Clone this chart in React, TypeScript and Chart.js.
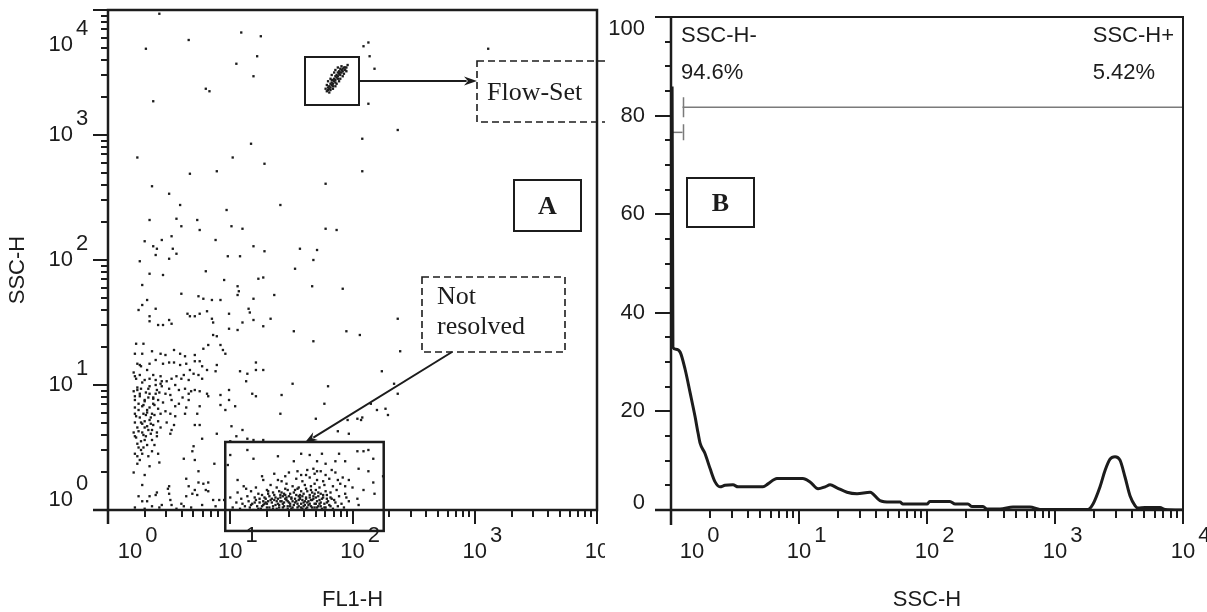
import React, { useEffect, useRef } from "react";
import { Chart, registerables } from "chart.js";

Chart.register(...registerables);

// ================= Panel A: FL1-H vs SSC-H dot plot =================
// Every event is stored as [log10(FL1-H), log10(SSC-H)] (decades).
const flowSetBeads: [number, number][] = [
  [1.80, 3.36], [1.81, 3.37], [1.82, 3.38], [1.81, 3.39], [1.83, 3.40], [1.82, 3.41], [1.84, 3.41], [1.83, 3.42],
  [1.85, 3.43], [1.84, 3.44], [1.86, 3.44], [1.85, 3.45], [1.87, 3.46], [1.86, 3.47], [1.88, 3.47], [1.87, 3.48],
  [1.89, 3.49], [1.88, 3.50], [1.90, 3.50], [1.89, 3.51], [1.91, 3.52], [1.90, 3.53], [1.92, 3.53], [1.93, 3.54],
  [1.94, 3.54], [1.95, 3.54], [1.82, 3.36], [1.84, 3.39], [1.86, 3.42], [1.88, 3.45], [1.90, 3.48], [1.92, 3.51],
  [1.78, 3.37], [1.79, 3.40], [1.80, 3.43], [1.82, 3.45], [1.83, 3.48], [1.85, 3.50], [1.86, 3.52], [1.88, 3.54],
  [1.84, 3.37], [1.86, 3.39], [1.87, 3.41], [1.89, 3.43], [1.90, 3.45], [1.92, 3.47], [1.93, 3.49], [1.95, 3.51],
  [1.79, 3.35], [1.96, 3.56], [1.91, 3.55], [1.81, 3.34], [1.80, 3.38], [1.83, 3.44], [1.91, 3.50], [1.94, 3.52],
];

const upperScatter: [number, number][] = [
  [0.42, 3.97], [0.31, 3.69], [0.66, 3.76], [1.09, 3.82], [1.25, 3.79], [1.22, 3.63], [1.05, 3.57], [1.19, 3.47],
  [0.80, 3.37], [0.83, 3.35], [0.37, 3.27], [0.24, 2.82], [1.17, 2.93], [1.02, 2.82], [1.28, 2.77], [0.67, 2.69],
  [0.89, 2.71], [2.13, 3.74], [2.09, 3.71], [2.14, 3.63], [2.18, 3.53], [2.13, 3.25], [2.37, 3.04], [2.08, 2.97],
  [2.08, 2.71], [3.11, 3.69],
  [0.36, 2.59], [0.50, 2.53], [0.59, 2.44], [0.34, 2.32], [0.56, 2.33], [0.60, 2.27], [0.73, 2.32], [0.75, 2.24],
  [0.97, 2.40], [1.01, 2.27], [1.10, 2.25], [1.41, 2.44], [1.78, 2.61], [1.78, 2.25], [1.87, 2.24], [0.30, 2.15],
  [0.37, 2.11], [0.40, 2.09], [0.44, 2.16], [0.52, 2.19], [0.53, 2.09], [0.56, 2.05], [0.50, 2.01], [0.26, 1.99],
  [0.39, 2.04], [0.34, 1.89], [0.45, 1.88], [0.88, 2.16], [0.98, 2.03], [1.08, 2.03], [1.19, 2.11], [1.28, 2.07],
  [1.57, 2.09], [1.71, 2.08], [1.68, 2.00], [1.53, 1.93], [0.80, 1.91], [0.28, 1.80], [1.23, 1.85], [1.27, 1.86],
  [0.95, 1.84], [1.67, 1.79], [1.92, 1.77], [1.36, 1.72],
];

const middleScatter: [number, number][] = [
  [0.60, 1.73], [0.74, 1.71], [0.78, 1.69], [0.85, 1.68], [0.92, 1.68], [1.06, 1.79], [1.07, 1.75], [1.06, 1.72],
  [1.19, 1.69], [0.32, 1.68], [0.28, 1.64], [0.25, 1.60], [0.39, 1.61], [0.34, 1.55], [0.34, 1.51], [0.41, 1.48],
  [0.45, 1.48], [0.50, 1.52], [0.52, 1.49], [0.65, 1.57], [0.67, 1.55], [0.71, 1.55], [0.75, 1.57], [0.81, 1.59],
  [0.85, 1.53], [0.86, 1.50], [0.99, 1.57], [1.15, 1.61], [1.16, 1.58], [1.10, 1.50], [1.19, 1.52], [1.27, 1.47],
  [1.33, 1.53], [1.06, 1.44], [0.99, 1.45], [1.52, 1.43], [1.68, 1.35], [1.95, 1.43], [2.06, 1.40], [2.37, 1.53],
  [2.39, 1.27], [0.23, 1.33], [0.29, 1.33], [0.22, 1.25], [0.28, 1.25], [0.36, 1.27], [0.43, 1.25], [0.47, 1.24],
  [0.54, 1.28], [0.59, 1.25], [0.63, 1.23], [0.71, 1.24], [0.78, 1.29], [0.82, 1.32], [0.86, 1.40], [0.89, 1.39],
  [0.92, 1.32], [0.94, 1.28], [0.96, 1.25], [0.75, 1.19], [0.77, 1.15], [0.71, 1.19], [0.64, 1.17], [0.59, 1.16],
  [0.54, 1.18], [0.50, 1.18], [0.45, 1.17], [0.39, 1.20], [0.34, 1.17], [0.26, 1.16], [0.24, 1.17], [0.22, 1.07],
  [0.26, 1.08], [0.30, 1.04], [0.34, 1.05], [0.39, 1.04], [0.43, 1.07], [0.43, 1.01], [0.48, 1.03], [0.52, 1.05],
  [0.56, 1.07], [0.62, 1.08], [0.66, 1.04], [0.70, 1.09], [0.74, 1.08], [0.77, 1.05], [0.67, 1.12], [0.81, 1.12],
  [0.89, 1.16], [0.88, 1.11], [1.08, 1.11], [1.14, 1.09], [1.21, 1.18], [1.21, 1.12], [1.27, 1.12], [1.13, 1.03],
  [0.99, 0.96], [1.18, 0.93], [1.42, 0.92], [1.51, 1.01], [1.80, 0.99], [2.24, 1.11], [2.34, 1.01], [2.37, 0.93],
];

const lowerLeftCluster: [number, number][] = [
  [0.24, 0.96], [0.22, 0.91], [0.26, 0.93], [0.30, 0.88], [0.34, 0.93], [0.37, 0.89], [0.40, 0.96], [0.44, 0.99],
  [0.47, 0.93], [0.51, 0.92], [0.52, 0.88], [0.58, 0.96], [0.63, 0.97], [0.66, 0.93], [0.66, 0.88], [0.71, 0.96],
  [0.75, 0.95], [0.82, 0.91], [0.92, 0.92], [0.99, 0.88], [1.04, 0.83], [0.28, 0.83], [0.32, 0.80], [0.37, 0.85],
  [0.41, 0.81], [0.22, 0.77], [0.29, 0.77], [0.36, 0.77], [0.51, 0.77], [0.55, 0.83], [0.63, 0.77], [0.73, 0.77],
  [0.75, 0.83], [0.81, 0.93], [0.92, 0.84], [0.96, 0.80], [1.21, 0.91], [1.41, 0.77], [1.70, 0.73], [1.77, 0.85],
  [1.96, 0.72], [2.04, 0.73], [2.08, 0.74], [2.15, 0.85], [2.20, 0.80], [2.27, 0.81], [2.29, 0.76],
  [0.22, 0.70], [0.24, 0.66], [0.26, 0.74], [0.28, 0.62], [0.30, 0.71], [0.33, 0.64], [0.35, 0.69], [0.23, 0.58],
  [0.27, 0.55], [0.31, 0.59], [0.36, 0.56], [0.25, 0.80], [0.29, 0.84], [0.32, 0.78], [0.34, 0.82], [0.38, 0.76],
  [0.41, 0.71], [0.43, 0.66], [0.40, 0.62], [0.22, 0.88], [0.26, 0.91], [0.30, 0.87], [0.37, 0.90], [0.24, 0.98],
  [0.28, 1.02], [0.33, 0.97], [0.39, 1.00], [0.42, 0.94], [0.45, 0.86], [0.47, 0.79], [0.21, 1.10], [0.27, 1.15],
  [0.32, 1.12], [0.37, 1.08], [0.44, 1.03], [0.50, 0.97], [0.48, 0.70], [0.52, 0.64], [0.55, 0.75], [0.58, 0.85],
  [0.61, 0.90], [0.64, 0.82], [0.68, 0.95], [0.55, 1.00], [0.60, 1.05],
  [0.21, 0.62], [0.23, 0.75], [0.25, 0.85], [0.27, 0.70], [0.29, 0.60], [0.31, 0.76], [0.33, 0.90], [0.35, 0.74],
  [0.36, 0.64], [0.38, 0.84], [0.21, 0.95], [0.23, 1.05], [0.27, 0.97], [0.31, 0.94], [0.34, 0.99], [0.39, 0.93],
  [0.41, 0.88], [0.43, 0.77], [0.25, 0.50], [0.28, 0.45], [0.32, 0.52], [0.36, 0.47], [0.22, 0.82], [0.30, 0.66],
  [0.34, 0.72],
  [0.22, 0.45], [0.26, 0.40], [0.29, 0.50], [0.33, 0.43], [0.38, 0.52], [0.42, 0.38], [0.21, 0.30], [0.30, 0.28],
  [0.75, 0.68], [0.28, 0.69], [0.32, 0.67], [0.37, 0.68], [0.25, 0.63], [0.22, 0.59], [0.30, 0.56], [0.35, 0.61],
  [0.40, 0.59], [0.24, 0.53], [0.27, 0.48], [0.41, 0.45], [0.54, 0.68], [0.51, 0.61], [0.71, 0.68], [0.77, 0.57],
  [2.07, 0.72], [1.88, 0.63], [1.97, 0.61], [0.89, 0.61], [1.01, 0.67], [1.10, 0.64], [1.14, 0.57], [1.00, 0.55],
  [1.05, 0.59], [1.19, 0.56], [1.27, 0.56],
  [0.24, 0.43], [0.24, 0.37], [0.34, 0.35], [0.62, 0.41], [0.70, 0.51], [0.69, 0.47], [0.71, 0.40], [0.87, 0.37],
  [1.00, 0.44], [0.64, 0.25], [0.74, 0.31],
];

const baselineLeft: [number, number][] = [
  [0.28, 0.20], [0.25, 0.11], [0.28, 0.07], [0.32, 0.07], [0.34, 0.11], [0.39, 0.12], [0.40, 0.14], [0.44, 0.04],
  [0.49, 0.17], [0.50, 0.19], [0.50, 0.13], [0.51, 0.08], [0.52, 0.04], [0.60, 0.05], [0.62, 0.03], [0.64, 0.11],
  [0.66, 0.19], [0.69, 0.13], [0.71, 0.16], [0.73, 0.12], [0.77, 0.04], [0.80, 0.16], [0.82, 0.15], [0.78, 0.21],
  [0.74, 0.22], [0.82, 0.22], [0.86, 0.08], [0.91, 0.08], [0.95, 0.08], [0.22, 0.02], [0.30, 0.01], [0.36, 0.03],
  [0.42, 0.02], [0.56, 0.01], [0.68, 0.02], [0.88, 0.03],
];

const gatedPopulation: [number, number][] = [
  [1.14, 0.48], [1.19, 0.41], [1.39, 0.43], [1.52, 0.39], [1.58, 0.45], [1.65, 0.44], [1.71, 0.39], [1.75, 0.45],
  [1.78, 0.37], [1.86, 0.39], [1.89, 0.45], [1.94, 0.39], [2.04, 0.47], [2.09, 0.47], [2.13, 0.48], [2.17, 0.41],
  [2.05, 0.33], [2.13, 0.31], [2.25, 0.27], [0.98, 0.36], [1.06, 0.24], [1.13, 0.17], [1.26, 0.27], [1.39, 0.24],
  [1.45, 0.27], [1.55, 0.31], [1.62, 0.28], [1.68, 0.33], [1.71, 0.31], [1.78, 0.28], [1.83, 0.32], [1.88, 0.24],
  [1.94, 0.19], [1.97, 0.24], [2.09, 0.16], [2.18, 0.13], [2.17, 0.22], [2.05, 0.04],
  [1.02, 0.02], [1.08, 0.01], [1.12, 0.03], [1.16, 0.02], [1.19, 0.00], [1.22, 0.03], [1.25, 0.01], [1.27, 0.04],
  [1.30, 0.02], [1.33, 0.00], [1.35, 0.03], [1.38, 0.01], [1.40, 0.04], [1.43, 0.02], [1.45, 0.00], [1.47, 0.03],
  [1.50, 0.01], [1.52, 0.04], [1.55, 0.02], [1.57, 0.00], [1.60, 0.03], [1.62, 0.01], [1.64, 0.04], [1.67, 0.02],
  [1.70, 0.00], [1.72, 0.03], [1.75, 0.01], [1.78, 0.02], [1.81, 0.04], [1.84, 0.01], [1.88, 0.03], [1.93, 0.02],
  [1.05, 0.06], [1.10, 0.05], [1.15, 0.07], [1.18, 0.05], [1.21, 0.08], [1.24, 0.06], [1.28, 0.05], [1.31, 0.07],
  [1.34, 0.06], [1.36, 0.08], [1.39, 0.05], [1.42, 0.07], [1.44, 0.06], [1.46, 0.08], [1.49, 0.05], [1.51, 0.07],
  [1.53, 0.06], [1.56, 0.08], [1.58, 0.05], [1.61, 0.07], [1.63, 0.06], [1.66, 0.08], [1.69, 0.05], [1.71, 0.07],
  [1.74, 0.06], [1.77, 0.05], [1.80, 0.07], [1.86, 0.06], [1.91, 0.05], [1.97, 0.07],
  [1.00, 0.10], [1.09, 0.09], [1.14, 0.11], [1.20, 0.10], [1.26, 0.12], [1.29, 0.09], [1.32, 0.11], [1.37, 0.10],
  [1.41, 0.12], [1.45, 0.09], [1.48, 0.11], [1.50, 0.10], [1.54, 0.12], [1.57, 0.09], [1.59, 0.11], [1.62, 0.10],
  [1.65, 0.12], [1.68, 0.09], [1.72, 0.11], [1.76, 0.10], [1.79, 0.12], [1.83, 0.09], [1.89, 0.11], [1.95, 0.10],
  [2.04, 0.09],
  [1.06, 0.14], [1.17, 0.15], [1.23, 0.13], [1.30, 0.16], [1.35, 0.14], [1.40, 0.15], [1.44, 0.13], [1.47, 0.16],
  [1.52, 0.14], [1.55, 0.17], [1.60, 0.13], [1.63, 0.15], [1.67, 0.14], [1.70, 0.16], [1.74, 0.13], [1.78, 0.15],
  [1.82, 0.14], [1.87, 0.16], [1.94, 0.13],
  [1.11, 0.19], [1.21, 0.18], [1.33, 0.20], [1.38, 0.18], [1.46, 0.21], [1.51, 0.19], [1.56, 0.18], [1.61, 0.20],
  [1.66, 0.19], [1.69, 0.21], [1.73, 0.18], [1.77, 0.20], [1.84, 0.19], [1.90, 0.21], [2.00, 0.18],
  [1.27, 0.24], [1.42, 0.23], [1.54, 0.25], [1.59, 0.23], [1.65, 0.26], [1.71, 0.24], [1.76, 0.23], [1.81, 0.25],
  [1.92, 0.26], [1.36, 0.29], [1.48, 0.30], [1.58, 0.28], [1.63, 0.32], [1.69, 0.29], [1.74, 0.31], [1.86, 0.30],
  [1.26, 0.03], [1.29, 0.06], [1.32, 0.02], [1.34, 0.09], [1.37, 0.04], [1.41, 0.07], [1.44, 0.03], [1.46, 0.10],
  [1.48, 0.06], [1.51, 0.02], [1.53, 0.09], [1.55, 0.05], [1.58, 0.02], [1.59, 0.08], [1.61, 0.04], [1.64, 0.07],
  [1.66, 0.03], [1.68, 0.11], [1.70, 0.05], [1.73, 0.08], [1.31, 0.13], [1.36, 0.12], [1.42, 0.14], [1.49, 0.13],
  [1.53, 0.16], [1.57, 0.12], [1.62, 0.17], [1.66, 0.16], [1.72, 0.14], [1.76, 0.12], [1.39, 0.09], [1.43, 0.11],
  [1.47, 0.01], [1.56, 0.11], [1.60, 0.00], [1.65, 0.10], [1.69, 0.02], [1.74, 0.03], [1.79, 0.06], [1.82, 0.10],
  [1.17, 0.04], [1.20, 0.06], [1.23, 0.01], [1.24, 0.09], [1.27, 0.07], [1.28, 0.10], [1.30, 0.05], [1.33, 0.08],
  [1.35, 0.01], [1.38, 0.07], [1.40, 0.02], [1.41, 0.10], [1.43, 0.05], [1.45, 0.12], [1.47, 0.07], [1.49, 0.03],
  [1.50, 0.09], [1.52, 0.00], [1.54, 0.07], [1.56, 0.03], [1.57, 0.10], [1.59, 0.01], [1.60, 0.06], [1.62, 0.09],
  [1.63, 0.02], [1.65, 0.05], [1.67, 0.08], [1.68, 0.00], [1.70, 0.10], [1.71, 0.02], [1.73, 0.05], [1.75, 0.09],
  [1.77, 0.02], [1.79, 0.09], [1.82, 0.03], [1.85, 0.08], [1.31, 0.15], [1.45, 0.17], [1.58, 0.15], [1.69, 0.13],
];

// Gate drawn round the unresolved population, in data units (FL1-H, SSC-H)
const gateFl1 = [9.1, 180];
const gateSsc = [0.68, 3.5];

// ================= Panel B: SSC-H histogram =================
const sscH = [
  1.0, 1.02, 1.035, 1.09, 1.18, 1.29, 1.41, 1.54, 1.63, 1.69, 1.84, 2.02, 2.21, 2.41, 2.64, 3.05, 3.34, 4.14, 5.23,
  5.72, 6.73, 8.5, 10.7, 12.2, 14.1, 16.0, 17.5, 19.8, 23.7, 28.4, 35.9, 42.9, 51.4, 61.5, 64.9, 100, 105, 151, 166,
  209, 225, 274, 294, 372, 470, 638, 763, 1811, 1982, 2248, 2460, 2690, 2943, 3220, 3523, 3854, 4217, 4449, 5047,
  6607, 7240, 10000,
];
const counts = [
  85.6, 85.6, 33, 32.6, 32, 28.5, 23.8, 19, 15.5, 13.5, 11.5, 8.4, 5.7, 4.7, 5.0, 5.1, 4.7, 4.7, 4.7,
  5.3, 6.4, 6.4, 6.4, 5.7, 4.3, 4.7, 5.1, 4.5, 3.6, 3.3, 3.6, 1.9, 1.6, 1.6, 1.2, 1.2, 1.7, 1.7, 1.2,
  1.2, 0.7, 0.7, 0.2, 0.2, 0.6, 0.6, 0.1, 0.1, 1.2, 4.7, 8, 10.3, 10.8, 10.1, 6.7, 2.9, 0.9, 0.4, 0.5,
  0.5, 0.1, 0,
];
// Region markers: [from, to, level]
const markerNegative = [1, 1.23, 76.6];
const markerPositive = [1.23, 10000, 81.7];
const regionLabels = ["SSC-H-", "SSC-H+"];
const regionPercents = ["94.6%", "5.42%"];

// ================= Axes =================
const decades = [0, 1, 2, 3, 4];
const minorMultipliers = [2, 3, 4, 5, 6, 7, 8, 9];
const countTicks = [0, 20, 40, 60, 80, 100];
const countMinorStep = 5;

// ================= Styles =================
const INK = "#1c1c1c";
const SANS = '"Liberation Sans", Arial, Helvetica, sans-serif';
const SERIF = '"Liberation Serif", "Times New Roman", Times, serif';
const LABEL_SIZE = 22;

function logTickList() {
  const out: { v: number; major: boolean }[] = [];
  const top = Math.pow(10, decades[decades.length - 1]);
  decades.forEach((d) => {
    [1, ...minorMultipliers].forEach((m) => {
      const v = m * Math.pow(10, d);
      if (v <= top) out.push({ v, major: m === 1 });
    });
  });
  return out;
}

function powerLabel(ctx: CanvasRenderingContext2D, exp: number, x: number, cy: number, anchor: "center" | "right") {
  ctx.font = `${LABEL_SIZE}px ${SANS}`;
  ctx.textBaseline = "middle";
  ctx.textAlign = "left";
  const w = ctx.measureText("10").width;
  const left = anchor === "center" ? x - w / 2 : x - w;
  ctx.fillText("10", left, cy);
  ctx.fillText(String(exp), left + w + 3, cy - 16);
}

function arrow(ctx: CanvasRenderingContext2D, x1: number, y1: number, x2: number, y2: number) {
  const ang = Math.atan2(y2 - y1, x2 - x1);
  const len = 13;
  const half = 4.5;
  ctx.beginPath();
  ctx.moveTo(x1, y1);
  ctx.lineTo(x2 - Math.cos(ang) * len * 0.8, y2 - Math.sin(ang) * len * 0.8);
  ctx.stroke();
  ctx.beginPath();
  ctx.moveTo(x2, y2);
  ctx.lineTo(x2 - Math.cos(ang) * len - Math.sin(ang) * half, y2 - Math.sin(ang) * len + Math.cos(ang) * half);
  ctx.lineTo(x2 - Math.cos(ang) * len * 0.7, y2 - Math.sin(ang) * len * 0.7);
  ctx.lineTo(x2 - Math.cos(ang) * len + Math.sin(ang) * half, y2 - Math.sin(ang) * len - Math.cos(ang) * half);
  ctx.closePath();
  ctx.fill();
}

function dashedRect(ctx: CanvasRenderingContext2D, x: number, y: number, w: number, h: number) {
  ctx.save();
  ctx.setLineDash([7, 4]);
  ctx.lineWidth = 1.6;
  ctx.strokeRect(x, y, w, h);
  ctx.restore();
}

const panelAPlugin = {
  id: "panelA",
  afterDraw(chart: any) {
    const { ctx, chartArea: a, scales } = chart;
    const xs = scales.x;
    const ys = scales.y;
    ctx.save();
    ctx.strokeStyle = INK;
    ctx.fillStyle = INK;
    // frame
    ctx.lineWidth = 2.5;
    ctx.strokeRect(a.left, a.top, a.right - a.left, a.bottom - a.top);
    ctx.beginPath();
    ctx.moveTo(a.left - 15, a.bottom);
    ctx.lineTo(a.left, a.bottom);
    ctx.moveTo(a.left, a.bottom);
    ctx.lineTo(a.left, a.bottom + 14);
    ctx.stroke();
    // ticks
    ctx.lineWidth = 2;
    ctx.beginPath();
    logTickList().forEach((t) => {
      const px = Math.round(xs.getPixelForValue(t.v));
      ctx.moveTo(px, a.bottom);
      ctx.lineTo(px, a.bottom + (t.major ? 14 : 7));
      const py = Math.round(ys.getPixelForValue(t.v));
      ctx.moveTo(a.left, py);
      ctx.lineTo(a.left - (t.major ? 15 : 7), py);
    });
    ctx.stroke();
    // tick labels
    decades.forEach((d) => {
      const px = xs.getPixelForValue(Math.pow(10, d));
      powerLabel(ctx, d, px + (d === 0 ? 22 : 0), a.bottom + 42, "center");
      const py = ys.getPixelForValue(Math.pow(10, d));
      const shift = d === decades[decades.length - 1] ? 35 : d === 0 ? -10 : 0;
      powerLabel(ctx, d, a.left - 35, py + shift, "right");
    });
    // axis titles
    ctx.font = `${LABEL_SIZE}px ${SANS}`;
    ctx.textAlign = "center";
    ctx.textBaseline = "middle";
    ctx.fillText("FL1-H", (a.left + a.right) / 2, 600);
    ctx.save();
    ctx.translate(18, (a.top + a.bottom) / 2 + 10);
    ctx.rotate(-Math.PI / 2);
    ctx.fillText("SSC-H", 0, 0);
    ctx.restore();

    // gate around the unresolved population
    const gx1 = xs.getPixelForValue(gateFl1[0]);
    const gx2 = xs.getPixelForValue(gateFl1[1]);
    const gy1 = ys.getPixelForValue(gateSsc[1]);
    const gy2 = ys.getPixelForValue(gateSsc[0]);
    ctx.lineWidth = 2.5;
    ctx.strokeRect(gx1, gy1, gx2 - gx1, gy2 - gy1);

    // Flow-Set bead box + arrow + label
    ctx.lineWidth = 2;
    ctx.strokeRect(305, 57, 54, 48);
    ctx.lineWidth = 2;
    arrow(ctx, 359, 81, 477, 81);
    dashedRect(ctx, 477, 61, 140, 61);
    ctx.font = `26px ${SERIF}`;
    ctx.textAlign = "left";
    ctx.fillText("Flow-Set", 487, 93);

    // A label
    ctx.lineWidth = 2;
    ctx.strokeRect(514, 180, 67, 51);
    ctx.font = `bold 26px ${SERIF}`;
    ctx.textAlign = "center";
    ctx.fillText("A", 547.5, 207);

    // Not resolved
    dashedRect(ctx, 422, 277, 143, 75);
    ctx.font = `26px ${SERIF}`;
    ctx.textAlign = "left";
    ctx.fillText("Not", 437, 297);
    ctx.fillText("resolved", 437, 327);
    ctx.lineWidth = 2;
    arrow(ctx, 452, 352, (gx1 + gx2) / 2, gy1 + 1);
    ctx.restore();
  },
};

const panelBPlugin = {
  id: "panelB",
  afterDraw(chart: any) {
    const { ctx, chartArea: a, scales } = chart;
    const xs = scales.x;
    const ys = scales.y;
    ctx.save();
    ctx.strokeStyle = INK;
    ctx.fillStyle = INK;
    ctx.lineWidth = 2;
    ctx.strokeRect(a.left, a.top, a.right - a.left, a.bottom - a.top);
    ctx.lineWidth = 2.5;
    ctx.beginPath();
    ctx.moveTo(a.left - 16, a.bottom);
    ctx.lineTo(a.right, a.bottom);
    ctx.moveTo(a.left, a.top);
    ctx.lineTo(a.left, a.bottom + 15);
    ctx.stroke();
    // ticks
    ctx.lineWidth = 2;
    ctx.beginPath();
    logTickList().forEach((t) => {
      const px = Math.round(xs.getPixelForValue(t.v));
      ctx.moveTo(px, a.bottom);
      ctx.lineTo(px, a.bottom + (t.major ? 14 : 8));
    });
    for (let v = countTicks[0]; v <= countTicks[countTicks.length - 1]; v += countMinorStep) {
      const py = Math.round(ys.getPixelForValue(v));
      const major = countTicks.includes(v);
      ctx.moveTo(a.left, py);
      ctx.lineTo(a.left - (major ? 16 : 6), py);
    }
    ctx.stroke();
    // labels
    decades.forEach((d) => {
      const px = xs.getPixelForValue(Math.pow(10, d));
      powerLabel(ctx, d, px + (d === 0 ? 21 : 0), a.bottom + 42, "center");
    });
    ctx.font = `${LABEL_SIZE}px ${SANS}`;
    ctx.textAlign = "right";
    ctx.textBaseline = "middle";
    countTicks.forEach((v) => {
      const py = ys.getPixelForValue(v);
      const shift = v === countTicks[countTicks.length - 1] ? 12 : v === 0 ? -7 : 0;
      ctx.fillText(String(v), a.left - 26, py + shift);
    });
    ctx.textAlign = "center";
    ctx.fillText("SSC-H", (a.left + a.right) / 2, 600);

    // region statistics
    ctx.textAlign = "left";
    ctx.fillText(regionLabels[0], a.left + 10, 36);
    ctx.fillText(regionPercents[0], a.left + 10, 73);
    const w = ctx.measureText(regionLabels[1]).width;
    ctx.fillText(regionLabels[1], a.right - 9 - w, 36);
    ctx.fillText(regionPercents[1], a.right - 9 - w, 73);

    // marker end ticks
    ctx.strokeStyle = "#7a7a7a";
    ctx.lineWidth = 1.5;
    ctx.beginPath();
    const mx = Math.round(xs.getPixelForValue(markerPositive[0])) + 0.5;
    const my2 = ys.getPixelForValue(markerPositive[2]);
    ctx.moveTo(mx, my2 - 10);
    ctx.lineTo(mx, my2 + 10);
    const mx1 = Math.round(xs.getPixelForValue(markerNegative[1])) + 0.5;
    const my1 = ys.getPixelForValue(markerNegative[2]);
    ctx.moveTo(mx1, my1 - 8);
    ctx.lineTo(mx1, my1 + 8);
    ctx.stroke();

    // B label
    ctx.strokeStyle = INK;
    ctx.lineWidth = 2;
    ctx.strokeRect(a.left + 16, 178, 67, 49);
    ctx.font = `bold 26px ${SERIF}`;
    ctx.textAlign = "center";
    ctx.fillText("B", a.left + 49.5, 204);
    ctx.restore();
  },
};

const toPoints = (arr: [number, number][]) =>
  arr.map(([lx, ly]) => ({ x: Math.pow(10, lx), y: Math.pow(10, ly) }));

export default function App() {
  const aRef = useRef<HTMLCanvasElement>(null);
  const bRef = useRef<HTMLCanvasElement>(null);

  useEffect(() => {
    const dotStyle = {
      pointStyle: "rect" as const,
      pointRadius: 1.65,
      pointBackgroundColor: INK,
      pointBorderWidth: 0,
      showLine: false,
    };
    const chartA = new Chart(aRef.current!, {
      type: "scatter",
      data: {
        datasets: [
          { label: "Flow-Set beads", data: toPoints(flowSetBeads), ...dotStyle },
          { label: "upper", data: toPoints(upperScatter), ...dotStyle },
          { label: "middle", data: toPoints(middleScatter), ...dotStyle },
          { label: "lower left", data: toPoints(lowerLeftCluster), ...dotStyle },
          { label: "baseline", data: toPoints(baselineLeft), ...dotStyle },
          { label: "gated", data: toPoints(gatedPopulation), ...dotStyle },
        ],
      },
      options: {
        responsive: false,
        animation: false,
        events: [],
        layout: { padding: { left: 108, right: 8, top: 10, bottom: 102 } },
        plugins: { legend: { display: false }, tooltip: { enabled: false } },
        scales: {
          x: { type: "logarithmic", min: 1, max: 10000, display: false },
          y: { type: "logarithmic", min: 1, max: 10000, display: false },
        },
      },
      plugins: [panelAPlugin],
    } as any);

    const chartB = new Chart(bRef.current!, {
      type: "line",
      data: {
        datasets: [
          {
            label: "SSC-H",
            data: sscH.map((x, i) => ({ x, y: counts[i] })),
            borderColor: INK,
            borderWidth: 3,
            pointRadius: 0,
            cubicInterpolationMode: "monotone",
            fill: false,
          },
          {
            label: "M1",
            data: [
              { x: markerNegative[0], y: markerNegative[2] },
              { x: markerNegative[1], y: markerNegative[2] },
            ],
            borderColor: "#7a7a7a",
            borderWidth: 1.5,
            pointRadius: 0,
          },
          {
            label: "M2",
            data: [
              { x: markerPositive[0], y: markerPositive[2] },
              { x: markerPositive[1], y: markerPositive[2] },
            ],
            borderColor: "#7a7a7a",
            borderWidth: 1.5,
            pointRadius: 0,
          },
        ],
      },
      options: {
        responsive: false,
        animation: false,
        events: [],
        layout: { padding: { left: 66, right: 24, top: 17, bottom: 102 } },
        plugins: { legend: { display: false }, tooltip: { enabled: false } },
        scales: {
          x: { type: "logarithmic", min: 1, max: 10000, display: false },
          y: { type: "linear", min: 0, max: 100, display: false },
        },
      },
      plugins: [panelBPlugin],
    } as any);

    return () => {
      chartA.destroy();
      chartB.destroy();
    };
  }, []);

  return (
    <div
      style={{
        position: "absolute",
        left: 0,
        top: 0,
        width: 1207,
        height: 612,
        background: "#fff",
        overflow: "hidden",
      }}
    >
      <canvas ref={aRef} width={605} height={612} style={{ position: "absolute", left: 0, top: 0 }} />
      <canvas
        ref={bRef}
        width={602}
        height={612}
        style={{ position: "absolute", left: 605, top: 0, background: "#fff" }}
      />
    </div>
  );
}
